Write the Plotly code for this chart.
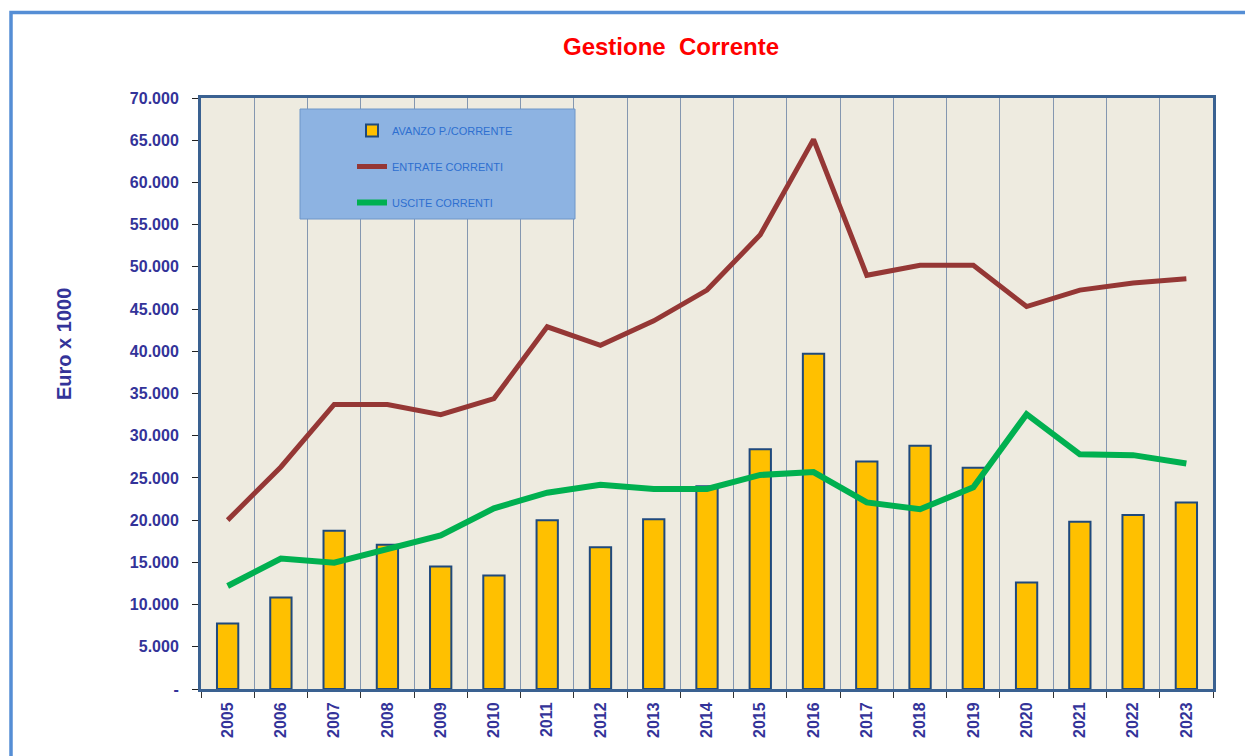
import plotly.graph_objects as go

years = [str(y) for y in range(2005, 2024)]
avanzo = [7750, 10850, 18750, 17100, 14500, 13450, 20000, 16800, 20100, 24000,
          28400, 39700, 26950, 28800, 26200, 12600, 19800, 20600, 22100]
entrate = [20000, 26300, 33700, 33700, 32500, 34400, 42900, 40700, 43600, 47250,
           53800, 65100, 49000, 50200, 50200, 45300, 47250, 48100, 48600]
uscite = [12200, 15450, 14950, 16600, 18200, 21400, 23250, 24200, 23700, 23700,
          25350, 25700, 22100, 21300, 23900, 32550, 27800, 27700, 26700]
y_ticks = list(range(0, 70001, 5000))
y_ticktext = ["-" if v == 0 else f"{v:,}".replace(",", ".") for v in y_ticks]

# page offset (browser body margin)
OFF = 8
W, H = 1253 - OFF, 756 - OFF
L, R, T, B = 201 - OFF, 40, 98 - OFF, 67
PW, PH = W - L - R, H - T - B


def px(x):
    return (x - OFF - L) / PW


def py(y):
    return (H - B - (y - OFF)) / PH


fig = go.Figure()
fig.add_trace(go.Bar(
    x=years, y=avanzo, name="AVANZO P./CORRENTE", width=0.4,
    marker=dict(color="#FFC000", line=dict(color="#1F497D", width=2)),
    legendgroup="a",
))
fig.add_trace(go.Scatter(
    x=years, y=entrate, name="ENTRATE CORRENTI", mode="lines",
    line=dict(color="#953735", width=5), legendgroup="b",
))
fig.add_trace(go.Scatter(
    x=years, y=uscite, name="USCITE CORRENTI", mode="lines",
    line=dict(color="#00B050", width=6), legendgroup="c",
))

fig.update_layout(
    width=W, height=H,
    margin=dict(l=L, r=R, t=T, b=B),
    paper_bgcolor="white",
    plot_bgcolor="#EEEBE0",
    title=dict(text="Gestione&nbsp; Corrente", x=(671 - OFF) / W, xanchor="center",
               y=1 - (47 - OFF) / H, yanchor="middle",
               font=dict(family="Liberation Sans, Arial", size=24, color="#FF0000",
                         weight="bold")),
    showlegend=True,
    legend=dict(x=px(352), y=py(116), xanchor="left", yanchor="top",
                bgcolor="rgba(0,0,0,0)", borderwidth=0,
                font=dict(family="Liberation Sans, Arial", size=11, color="#2E6FD0"),
                tracegroupgap=17, traceorder="grouped"),
    shapes=[
        dict(type="rect", xref="paper", yref="paper",
             x0=px(300), x1=px(575), y0=py(219), y1=py(109),
             fillcolor="#8DB3E2", line=dict(color="#6F96C8", width=1), layer="above"),
        dict(type="rect", xref="paper", yref="paper",
             x0=px(11), x1=px(1275), y0=py(780), y1=py(12.5),
             fillcolor="rgba(0,0,0,0)", line=dict(color="#558ED5", width=3.5), layer="above"),
    ],
    annotations=[
        dict(text="Euro x 1000", xref="paper", yref="paper", x=px(64), y=py(344),
             xanchor="center", yanchor="middle", textangle=-90, showarrow=False,
             font=dict(family="Liberation Sans, Arial", size=20, color="#333399",
                       weight="bold")),
    ],
)

fig.update_xaxes(
    type="category", tickson="boundaries", ticks="outside", ticklen=6,
    tickcolor="#333333", tickangle=-90, ticklabelstandoff=4,
    tickfont=dict(family="Liberation Sans, Arial", size=16, color="#333399", weight="bold"),
    showgrid=True, gridcolor="#8497B0", gridwidth=1.2,
    showline=True, linecolor="#3A6191", linewidth=3, mirror=True,
)
fig.update_yaxes(
    range=[0, 70000], tickvals=y_ticks, ticktext=y_ticktext,
    ticks="outside", ticklen=6, tickcolor="#222222", ticklabelstandoff=10,
    tickfont=dict(family="Liberation Sans, Arial", size=16, color="#333399", weight="bold"),
    showgrid=False, zeroline=False,
    showline=True, linecolor="#3A6191", linewidth=3, mirror=True,
)

fig.write_html("out.html")
